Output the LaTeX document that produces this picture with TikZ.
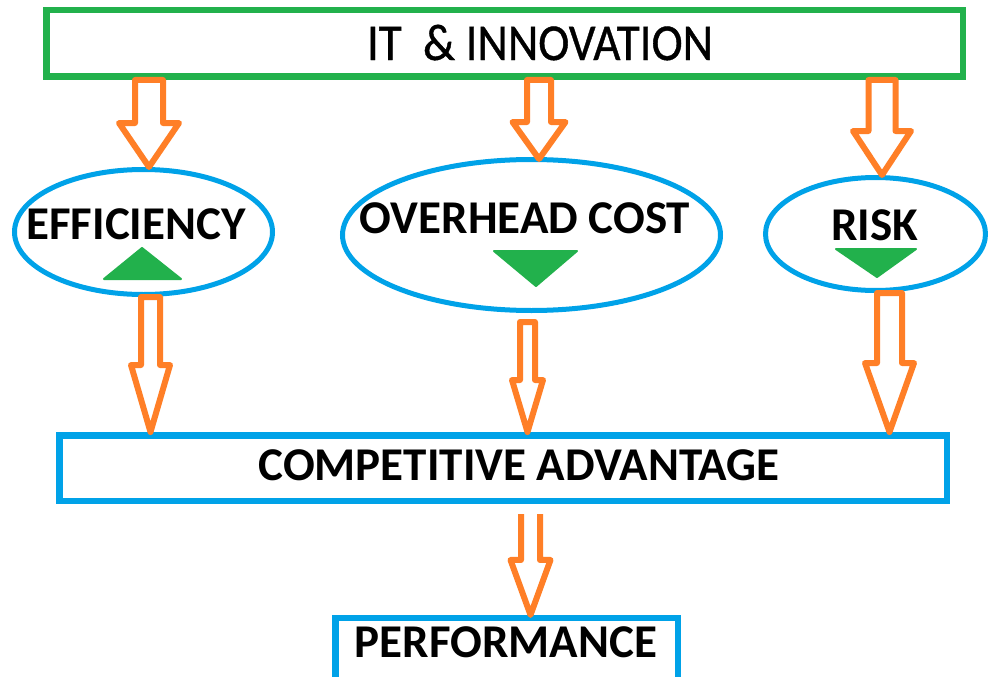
\documentclass[tikz,border=0pt]{standalone}
\usepackage{fontspec}
\setmainfont{Carlito}
\newfontfamily\topfont[FakeBold=0.8]{Carlito}
\usetikzlibrary{shapes.geometric,calc}
\definecolor{pgreen}{RGB}{34,177,76}
\definecolor{pblue}{RGB}{0,162,232}
\definecolor{porange}{RGB}{255,127,39}
\tikzset{
  gbox/.style={draw=pgreen,line width=6.5pt,rectangle,inner sep=0pt},
  bbox/.style={draw=pblue,line width=6.5pt,rectangle,inner sep=0pt},
  bell/.style={draw=pblue,line width=5pt,ellipse,inner sep=0pt},
  lbl/.style={anchor=base,inner sep=0pt,font=\fontsize{47}{56}\selectfont\bfseries},
  arr/.style={draw=porange,line width=6pt,line join=round,fill=white},
  tri/.style={fill=pgreen,draw=pgreen,line width=2pt,line join=round}
}
% #1 x, #2 start point, #3 tip point, #4 shaft half width, #5 head half width, #6 head length
\newcommand\barrow[6]{%
  \draw[arr] let \p1=#2, \p2=#3 in
   (#1pt-#4pt,\y1) -- (#1pt-#4pt,\y2+#6pt) -- (#1pt-#5pt,\y2+#6pt) -- (#1pt,\y2)
   -- (#1pt+#5pt,\y2+#6pt) -- (#1pt+#4pt,\y2+#6pt) -- (#1pt+#4pt,\y1) -- cycle;}
\newcommand\oarrow[6]{%
  \draw[arr,fill=none] let \p1=#2, \p2=#3 in
   (#1pt-#4pt,\y1) -- (#1pt-#4pt,\y2+#6pt) -- (#1pt-#5pt,\y2+#6pt) -- (#1pt,\y2)
   -- (#1pt+#5pt,\y2+#6pt) -- (#1pt+#4pt,\y2+#6pt) -- (#1pt+#4pt,\y1);}
\begin{document}
\begin{tikzpicture}[x=1pt,y=-1pt]
\useasboundingbox (0,0) rectangle (988,677);
\clip (0,0) rectangle (988,677);
\fill[white] (0,0) rectangle (988,677);
% boxes
\node[gbox,minimum width=916.5pt,minimum height=66.5pt] (it) at (504.5,43.5) {};
\node[anchor=base,inner sep=0pt,font=\fontsize{47}{56}\selectfont\topfont] (itT) at (540,60) {\scalebox{1}[1.1]{IT\ \ \& INNOVATION}};
% ellipses
\node[bell,minimum width=258pt,minimum height=125pt] (eff) at (143.5,232) {};
\node[bell,minimum width=378pt,minimum height=151pt] (ovh) at (531.5,235) {};
\node[bell,minimum width=220pt,minimum height=113pt] (risk) at (875.5,234) {};
\node[lbl] (effT) at (136,239) {EFFICIENCY};
\node[lbl] (ovhT) at (525,233) {OVERHEAD COST};
\node[lbl] (riskT) at (874.5,240) {RISK};
% triangles
\filldraw[tri] (142,248) -- (104,279) -- (181,279) -- cycle;
\filldraw[tri] (494,251) -- (577,251) -- (536,286) -- cycle;
\filldraw[tri] (836,249) -- (916,249) -- (877,277) -- cycle;
% competitive advantage and performance
\node[bbox,minimum width=887.5pt,minimum height=65.5pt] (ca) at (503,468) {};
\node[lbl] (caT) at (519,480) {COMPETITIVE ADVANTAGE};
\node[bbox,minimum width=342.5pt,minimum height=81.75pt] (perf) at (506.5,659.1) {};
\node[lbl] (perfT) at (506,657) {PERFORMANCE};
% arrows
\barrow{149}{(it.south)}{(eff.north)}{14}{30}{44}
\barrow{539}{(it.south)}{([yshift=-2pt]ovh.north)}{12}{26.5}{37}
\barrow{882}{(it.south)}{(risk.north)}{13.5}{29}{44}
\barrow{150.5}{(eff.south)}{(ca.north)}{9.5}{19.5}{67}
\barrow{527.5}{([yshift=-9pt]ovh.south)}{(ca.north)}{7.5}{15.5}{52}
\barrow{889.5}{(risk.south)}{(ca.north)}{12.5}{24.5}{69}
\oarrow{530.5}{([yshift=-10pt]ca.south)}{(perf.north)}{9.5}{20}{55}
\end{tikzpicture}
\end{document}
